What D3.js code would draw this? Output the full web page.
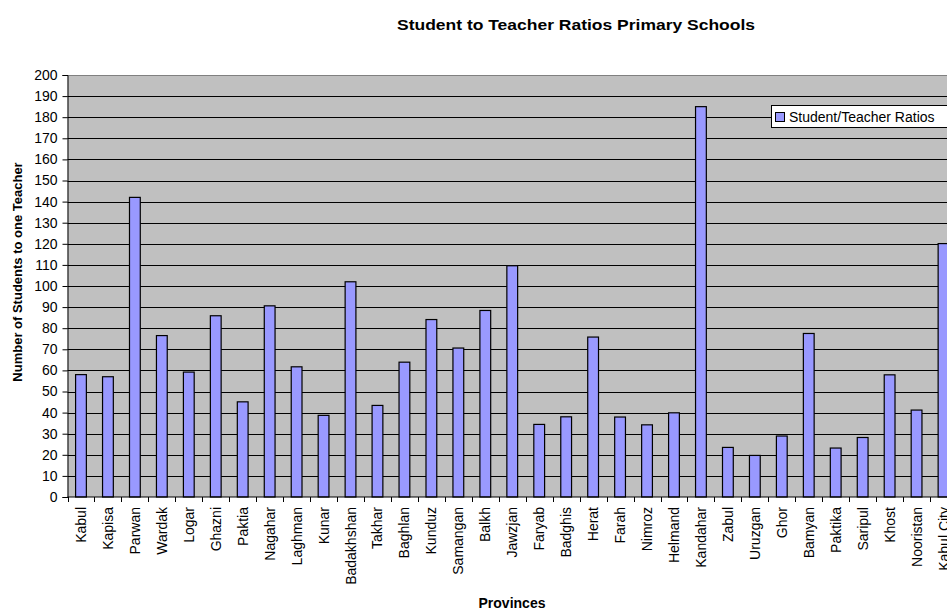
<!DOCTYPE html>
<html>
<head>
<meta charset="utf-8">
<script src="https://cdn.jsdelivr.net/npm/d3@7"></script>
<style>
body{margin:0;background:#fff;overflow:hidden}
text{font-family:"Liberation Sans",Arial,sans-serif}
</style>
</head>
<body>
<div id="chart"></div>
<script>
// provinces and their ratios
const provinces=["Kabul","Kapisa","Parwan","Wardak","Logar","Ghazni","Paktia","Nagahar","Laghman","Kunar",
  "Badakhshan","Takhar","Baghlan","Kunduz","Samangan","Balkh","Jawzjan","Faryab","Badghis","Herat",
  "Farah","Nimroz","Helmand","Kandahar","Zabul","Uruzgan","Ghor","Bamyan","Paktika","Saripul",
  "Khost","Nooristan","Kabul City"]
const ratios=[58,57,142,76.5,59.2,85.9,45.1,90.6,61.7,38.7,
  102,43.4,63.9,84.1,70.6,88.4,109.6,34.4,38,75.8,
  37.9,34.2,39.9,185,23.5,19.7,28.9,77.5,23.2,28.2,
  57.9,41.2,120.1]
const yTicks=d3.range(0,201,10)
const seriesName="Student/Teacher Ratios"

const width=947,height=611
const plotLeft=67.5,plotRight=957,plotTop=75,plotBottom=497

const svg=d3.select("#chart").append("svg").attr("width",width).attr("height",height)

let x=d3.scaleBand().domain(provinces).range([plotLeft,plotRight]).paddingInner(0.6).paddingOuter(0.3)
let xEdge=d3.scaleLinear().domain([0,provinces.length]).range([plotLeft,plotRight])
let y=d3.scaleLinear().domain([0,200]).range([plotBottom,plotTop])

//plot area
svg.append("rect").attr("x",plotLeft).attr("y",plotTop).attr("width",plotRight-plotLeft).attr("height",plotBottom-plotTop).attr("fill","#c0c0c0")
svg.append("line").attr("x1",plotLeft).attr("x2",plotRight).attr("y1",plotTop+0.5).attr("y2",plotTop+0.5).attr("stroke","#808080")

//grid lines
svg.append("g").selectAll("line").data(yTicks.filter(d=>d>0&&d<200)).enter().append("line")
  .attr("x1",plotLeft).attr("x2",plotRight)
  .attr("y1",d=>Math.round(y(d))+0.5).attr("y2",d=>Math.round(y(d))+0.5)
  .attr("stroke","#000").attr("stroke-width",1)

//bars
svg.append("g").selectAll("rect").data(ratios).enter().append("rect")
  .attr("x",(d,i)=>x(provinces[i]))
  .attr("y",d=>y(d))
  .attr("width",x.bandwidth())
  .attr("height",d=>plotBottom-y(d))
  .attr("fill","#9999ff").attr("stroke","#000").attr("stroke-width",1.2)

//y axis
let yAxis=d3.axisLeft(y).tickValues(yTicks).tickSize(5).tickPadding(5).tickFormat(d3.format("d"))
let gy=svg.append("g").attr("transform",`translate(${plotLeft},0)`).call(yAxis)
gy.select(".domain").attr("stroke","#000")
gy.selectAll("text").attr("font-size",14).attr("fill","#000")

//x axis with ticks on the category edges
let gx=svg.append("g").attr("transform",`translate(0,${plotBottom})`)
gx.append("line").attr("x1",plotLeft).attr("x2",plotRight).attr("stroke","#000")
gx.selectAll(".tk").data(d3.range(provinces.length+1)).enter().append("line")
  .attr("x1",d=>Math.round(xEdge(d))+0.5).attr("x2",d=>Math.round(xEdge(d))+0.5)
  .attr("y1",0).attr("y2",5).attr("stroke","#000")
gx.selectAll(".lbl").data(provinces).enter().append("text")
  .attr("transform",d=>`translate(${x(d)+x.bandwidth()/2+5},10) rotate(-90)`)
  .attr("text-anchor","end").attr("font-size",14).text(d=>d)

//titles
svg.append("text").attr("x",576).attr("y",30).attr("text-anchor","middle")
  .attr("font-size",15).attr("font-weight","bold")
  .attr("textLength",358).attr("lengthAdjust","spacingAndGlyphs")
  .text("Student to Teacher Ratios Primary Schools")
svg.append("text").attr("x",512).attr("y",608).attr("text-anchor","middle")
  .attr("font-size",14).attr("font-weight","bold").text("Provinces")
svg.append("text").attr("transform","translate(22,272) rotate(-90)").attr("text-anchor","middle")
  .attr("font-size",13).attr("font-weight","bold").text("Number of Students to one Teacher")

//legend
let legend=svg.append("g")
legend.append("rect").attr("x",771.5).attr("y",105.5).attr("width",180).attr("height",22)
  .attr("fill","#fff").attr("stroke","#000")
legend.append("rect").attr("x",775.5).attr("y",112.5).attr("width",9).attr("height",9)
  .attr("fill","#9999ff").attr("stroke","#000")
legend.append("text").attr("x",789).attr("y",121.5).attr("font-size",14).text(seriesName)
</script>
</body>
</html>
